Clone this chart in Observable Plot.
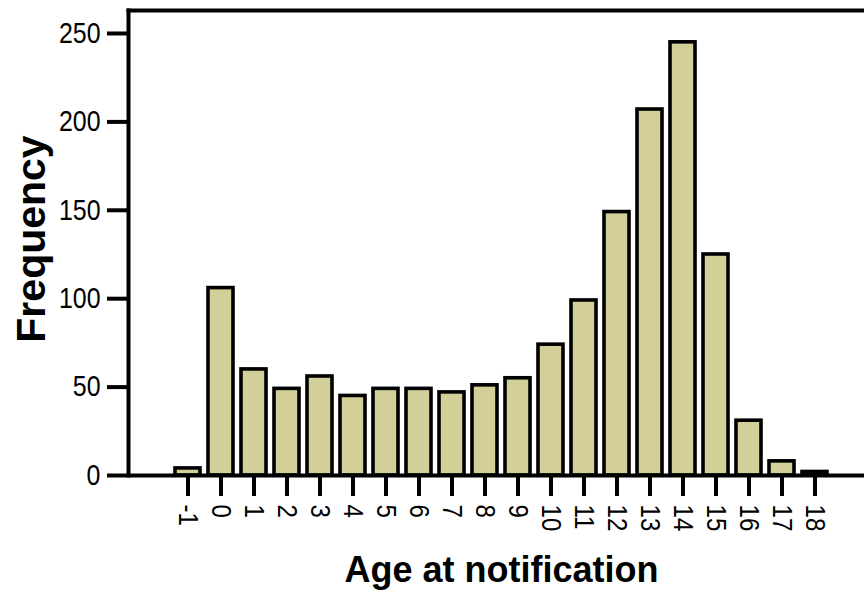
<!DOCTYPE html>
<html><head><meta charset="utf-8">
<script src="https://cdn.jsdelivr.net/npm/d3@7"></script>
<script src="https://cdn.jsdelivr.net/npm/@observablehq/plot@0.6"></script>
<style>
body{margin:0;background:#fff}
</style>
</head><body><div id="chart"></div>
<script>
const ages = [-1, 0, 1, 2, 3, 4, 5, 6, 7, 8, 9, 10, 11, 12, 13, 14, 15, 16, 17, 18];
const counts = [4, 106, 60, 49, 56, 45, 49, 49, 47, 51, 55, 74, 99, 149, 207, 245, 125, 31, 8, 2];
const yTicks = [0, 50, 100, 150, 200, 250];
const yMax = 263;
const xLabel = "Age at notification";
const yLabel = "Frequency";

const data = ages.map((a, i) => ({age: String(a), count: counts[i]}));

const chart = Plot.plot({
  width: 864, height: 596,
  marginLeft: 128, marginRight: 0, marginTop: 10, marginBottom: 121,
  style: {fontFamily: "'Liberation Sans', Arial, sans-serif", background: "#fff", color: "#000"},
  x: {type: "band", domain: ages.map(String), range: [164.2, 836.8], paddingInner: 0.25, paddingOuter: 0.125},
  y: {domain: [0, yMax]},
  marks: [
    Plot.barY(data, {x: "age", y: "count", fill: "#d3cf98", stroke: "#000", strokeWidth: 3.6}),
    Plot.ruleY([0], {stroke: "#000", strokeWidth: 4}),
    Plot.frame({anchor: "left", stroke: "#000", strokeWidth: 4}),
    Plot.frame({anchor: "top", stroke: "#000", strokeWidth: 4}),
    Plot.axisY({ticks: yTicks, tickSize: 21, tickPadding: 7, strokeWidth: 4, fontSize: 29, label: null}),
    Plot.axisX({tickSize: 21, tickPadding: 8, tickRotate: 90, fontSize: 28, label: null, strokeWidth: 4}),
    Plot.text([yLabel], {frameAnchor: "left", textAnchor: "middle", rotate: -90, dx: -97, dy: -4, fontSize: 41, fontWeight: "bold"}),
    Plot.text([xLabel], {frameAnchor: "bottom", dx: 5, dy: 106, fontSize: 36, fontWeight: "bold"})
  ]
});
// thick axis ticks
chart.querySelectorAll('g[aria-label]').forEach(g => {
  const lab = g.getAttribute("aria-label");
  if (/axis tick$/.test(lab)) {
    g.style.strokeWidth = "4px";
    g.style.stroke = "#000";
    g.querySelectorAll("*").forEach(el => { el.style.strokeWidth = "4px"; el.style.stroke = "#000"; });
  }
  if (/axis tick label$/.test(lab)) {
    // condensed tick labels, like the reference's narrow face
    g.querySelectorAll("text").forEach(t => {
      const tr = t.getAttribute("transform") || "";
      t.setAttribute("transform", tr + " scale(0.86,1)");
    });
  }
});
document.getElementById("chart").appendChild(chart);
</script>
</body></html>
